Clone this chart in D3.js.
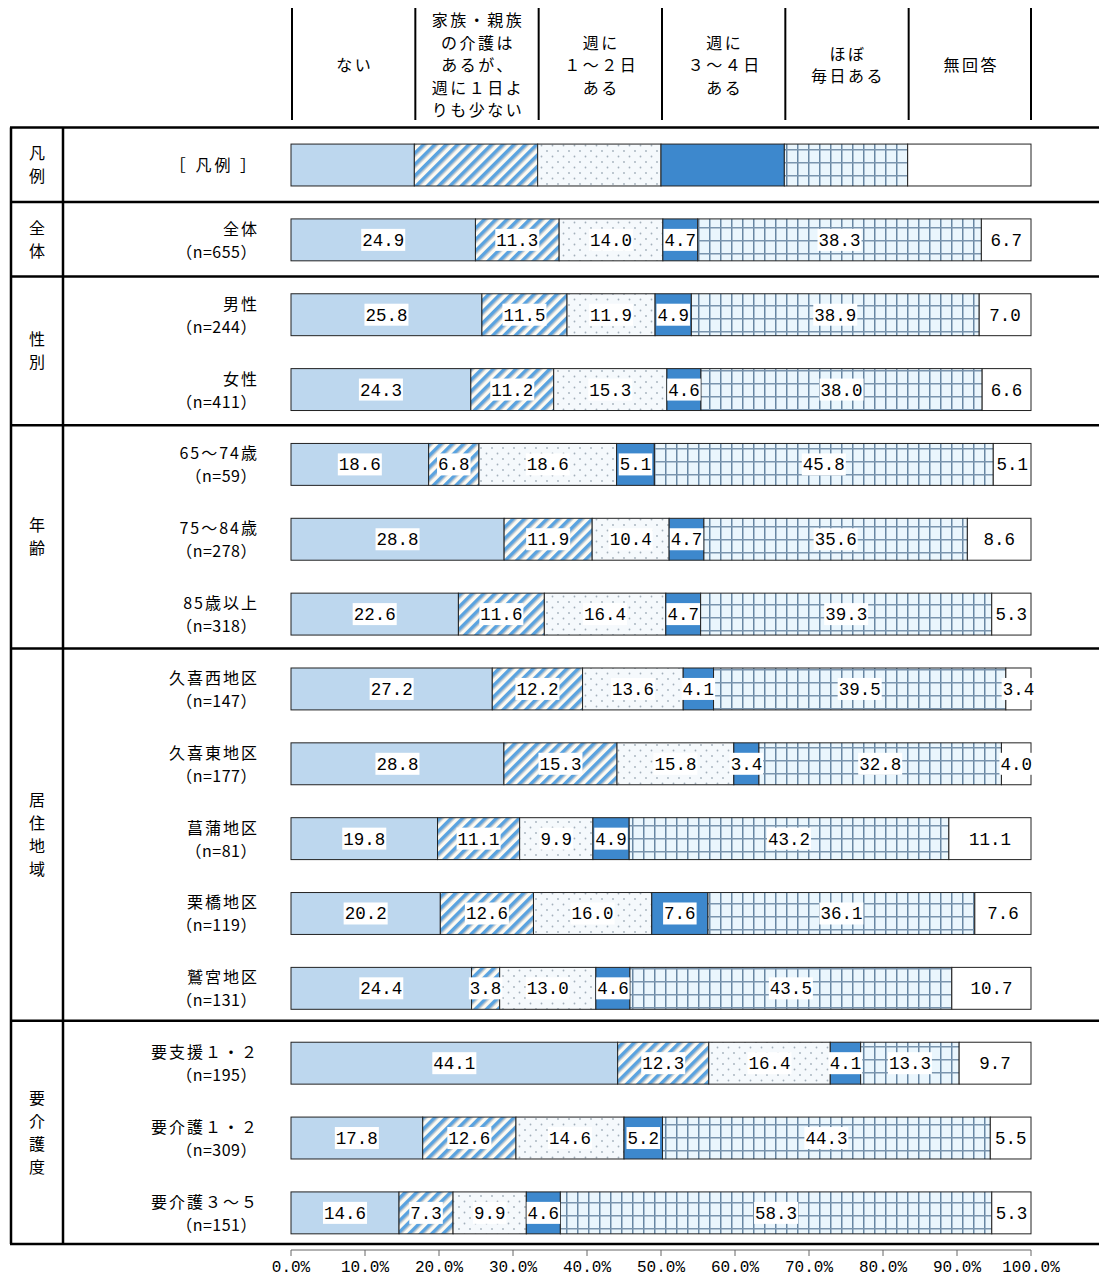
<!DOCTYPE html>
<html>
<head>
<meta charset="utf-8">
<script src="https://cdn.jsdelivr.net/npm/d3@7"></script>
<style>
body { margin: 0; background: #fff; }
svg text { font-family: "Noto Sans CJK JP", "Noto Sans", sans-serif; fill: #000; }
</style>
</head>
<body>
<div id="chart"></div>
<script>
// 回答の区分
var categories = ["ない", "家族・親族の介護はあるが、週に１日よりも少ない", "週に１～２日ある", "週に３～４日ある", "ほぼ毎日ある", "無回答"];
var headerLines = [
  ["ない"],
  ["家族・親族", "の介護は", "あるが、", "週に１日よ", "りも少ない"],
  ["週に", "１～２日", "ある"],
  ["週に", "３～４日", "ある"],
  ["ほぼ", "毎日ある"],
  ["無回答"]
];

// 行ラベル
var rowNames = ["全体", "男性", "女性", "65～74歳", "75～84歳", "85歳以上", "久喜西地区", "久喜東地区", "菖蒲地区", "栗橋地区", "鷲宮地区", "要支援１・２", "要介護１・２", "要介護３～５"];
var rowN = ["655", "244", "411", "59", "278", "318", "147", "177", "81", "119", "131", "195", "309", "151"];

// 値 (%)
var valNai   = [24.9, 25.8, 24.3, 18.6, 28.8, 22.6, 27.2, 28.8, 19.8, 20.2, 24.4, 44.1, 17.8, 14.6];
var valLess  = [11.3, 11.5, 11.2, 6.8, 11.9, 11.6, 12.2, 15.3, 11.1, 12.6, 3.8, 12.3, 12.6, 7.3];
var val12    = [14.0, 11.9, 15.3, 18.6, 10.4, 16.4, 13.6, 15.8, 9.9, 16.0, 13.0, 16.4, 14.6, 9.9];
var val34    = [4.7, 4.9, 4.6, 5.1, 4.7, 4.7, 4.1, 3.4, 4.9, 7.6, 4.6, 4.1, 5.2, 4.6];
var valDaily = [38.3, 38.9, 38.0, 45.8, 35.6, 39.3, 39.5, 32.8, 43.2, 36.1, 43.5, 13.3, 44.3, 58.3];
var valNone  = [6.7, 7.0, 6.6, 5.1, 8.6, 5.3, 3.4, 4.0, 11.1, 7.6, 10.7, 9.7, 5.5, 5.3];

// グループ (行の範囲)
var groups = [
  { name: "凡例", from: 0, to: 1 },
  { name: "全体", from: 1, to: 2 },
  { name: "性別", from: 2, to: 4 },
  { name: "年齢", from: 4, to: 7 },
  { name: "居住地域", from: 7, to: 12 },
  { name: "要介護度", from: 12, to: 15 }
];

var xTicks = [0, 10, 20, 30, 40, 50, 60, 70, 80, 90, 100];

var W = 1099, H = 1278;
var svg = d3.select("#chart").append("svg").attr("width", W).attr("height", H);

// パターン
var defs = svg.append("defs");
var p1 = defs.append("pattern").attr("id", "pStripe").attr("patternUnits", "userSpaceOnUse")
  .attr("width", 8).attr("height", 8).attr("patternTransform", "rotate(45)");
p1.append("rect").attr("width", 8).attr("height", 8).attr("fill", "#fdfaf2");
p1.append("rect").attr("x", 0).attr("width", 3.4).attr("height", 8).attr("fill", "#5aa3e0");
p1.append("rect").attr("x", 3.4).attr("width", 1).attr("height", 8).attr("fill", "#8fa7bd");

var p2 = defs.append("pattern").attr("id", "pDot").attr("patternUnits", "userSpaceOnUse")
  .attr("width", 11).attr("height", 11);
p2.append("rect").attr("width", 11).attr("height", 11).attr("fill", "#f5f9fc");
p2.append("circle").attr("cx", 2.5).attr("cy", 2.5).attr("r", 0.9).attr("fill", "#a3b0bb");
p2.append("circle").attr("cx", 8).attr("cy", 8).attr("r", 0.9).attr("fill", "#a3b0bb");

var p3 = defs.append("pattern").attr("id", "pGrid").attr("patternUnits", "userSpaceOnUse")
  .attr("width", 11).attr("height", 13);
p3.append("rect").attr("width", 11).attr("height", 13).attr("fill", "#eaf6fd");
p3.append("rect").attr("x", 5).attr("width", 1.5).attr("height", 13).attr("fill", "#6887a3");
p3.append("rect").attr("y", 6).attr("width", 11).attr("height", 1.5).attr("fill", "#7a95ae");

var fills = ["#bdd7ee", "url(#pStripe)", "url(#pDot)", "#3d88cd", "url(#pGrid)", "#ffffff"];

// スケール
var x = d3.scaleLinear().domain([0, 100]).range([291, 1031]);
var rowKeys = ["凡例"].concat(rowNames);
var y = d3.scaleBand().domain(rowKeys).range([127.6, 1250.3]).paddingInner(0.44).paddingOuter(0.22);
var tableY = d3.scaleLinear().domain([0, 15]).range([127.6, 1244]);

// 見出し
var colW = (x(100) - x(0)) / 6;
categories.forEach(function (c, i) {
  svg.append("line").attr("x1", x(0) + colW * i + 1).attr("x2", x(0) + colW * i + 1)
    .attr("y1", 8).attr("y2", 120).attr("stroke", "#000").attr("stroke-width", 2);
  var lines = headerLines[i];
  var t = svg.append("text").attr("text-anchor", "middle").attr("font-size", 16)
    .attr("letter-spacing", "2.5px");
  lines.forEach(function (l, j) {
    t.append("tspan").attr("x", x(0) + colW * (i + 0.5) + 2)
      .attr("y", 65 + (j - (lines.length - 1) / 2) * 22.5 + 6).text(l);
  });
});
svg.append("line").attr("x1", x(100)).attr("x2", x(100)).attr("y1", 8).attr("y2", 120)
  .attr("stroke", "#000").attr("stroke-width", 2);

// 表の枠
groups.forEach(function (g) {
  svg.append("line").attr("x1", 10).attr("x2", W).attr("y1", tableY(g.from)).attr("y2", tableY(g.from))
    .attr("stroke", "#000").attr("stroke-width", 2.5);
  var cy = (tableY(g.from) + tableY(g.to)) / 2;
  var chars = g.name.split("");
  var t = svg.append("text").attr("text-anchor", "middle").attr("font-size", 16);
  chars.forEach(function (ch, j) {
    t.append("tspan").attr("x", 37).attr("y", cy + (j - (chars.length - 1) / 2) * 23 + 6).text(ch);
  });
});
svg.append("line").attr("x1", 10).attr("x2", W).attr("y1", tableY(15)).attr("y2", tableY(15))
  .attr("stroke", "#000").attr("stroke-width", 2.5);
[11, 63].forEach(function (xx) {
  svg.append("line").attr("x1", xx).attr("x2", xx).attr("y1", tableY(0)).attr("y2", tableY(15))
    .attr("stroke", "#000").attr("stroke-width", 2.5);
});

// 行ラベル
svg.append("text").attr("x", 259).attr("y", y("凡例") + y.bandwidth() / 2 + 6)
  .attr("text-anchor", "end").attr("font-size", 16).attr("letter-spacing", "3px").text("［ 凡例 ］");
rowNames.forEach(function (r, i) {
  var cy = y(r) + y.bandwidth() / 2;
  svg.append("text").attr("x", 259).attr("y", cy - 5).attr("text-anchor", "end")
    .attr("font-size", 16).attr("letter-spacing", "2px").text(r);
  svg.append("text").attr("x", 257).attr("y", cy + 18).attr("text-anchor", "end")
    .attr("font-size", 16).attr("letter-spacing", "0.5px").text("（n=" + rowN[i] + "）");
});

// 凡例バー
categories.forEach(function (c, i) {
  svg.append("rect").attr("x", x(i * 100 / 6)).attr("width", x(100 / 6) - x(0))
    .attr("y", y("凡例")).attr("height", y.bandwidth())
    .attr("fill", fills[i]).attr("stroke", "#222").attr("stroke-width", 1);
});

// データバー
var series = [valNai, valLess, val12, val34, valDaily, valNone];
var rows = rowNames.map(function (r, i) {
  var vals = series.map(function (s) { return s[i]; });
  var tot = d3.sum(vals);
  var acc = 0;
  return vals.map(function (v, k) {
    var seg = { row: r, k: k, v: v, x0: acc / tot * 100, x1: (acc + v) / tot * 100 };
    acc += v;
    return seg;
  });
});
var segs = d3.merge(rows);

svg.selectAll("rect.bar").data(segs).enter().append("rect").attr("class", "bar")
  .attr("x", function (d) { return x(d.x0); })
  .attr("width", function (d) { return x(d.x1) - x(d.x0); })
  .attr("y", function (d) { return y(d.row); })
  .attr("height", y.bandwidth())
  .attr("fill", function (d) { return fills[d.k]; })
  .attr("stroke", "#222").attr("stroke-width", 1);

var lab = svg.selectAll("g.lab").data(segs).enter().append("g").attr("class", "lab")
  .attr("transform", function (d) {
    return "translate(" + x((d.x0 + d.x1) / 2) + "," + (y(d.row) + y.bandwidth() / 2) + ")";
  });
lab.append("text").attr("text-anchor", "middle").attr("y", 6)
  .style("font-family", "'Liberation Mono', 'DejaVu Sans Mono', monospace")
  .attr("font-size", 17.5)
  .text(function (d) { return d.v.toFixed(1); });
lab.each(function () {
  var g = d3.select(this);
  var bb = g.select("text").node().getBBox();
  g.insert("rect", "text").attr("x", bb.x - 1).attr("y", -11).attr("width", bb.width + 2)
    .attr("height", 22).attr("fill", "#fff");
});

// 横軸
var axis = svg.append("g").attr("transform", "translate(0,1250)");
axis.append("line").attr("x1", x(0)).attr("x2", x(100)).attr("y1", 0).attr("y2", 0)
  .attr("stroke", "#666").attr("stroke-width", 1);
axis.selectAll("line.tk").data(xTicks).enter().append("line").attr("class", "tk")
  .attr("x1", function (d) { return x(d); }).attr("x2", function (d) { return x(d); })
  .attr("y1", 0).attr("y2", 6).attr("stroke", "#666");
axis.selectAll("text").data(xTicks).enter().append("text")
  .attr("x", function (d) { return x(d); }).attr("y", 22).attr("text-anchor", "middle")
  .style("font-family", "'Liberation Mono', 'DejaVu Sans Mono', monospace")
  .attr("font-size", 16)
  .text(function (d) { return d.toFixed(1) + "%"; });
</script>
</body>
</html>
